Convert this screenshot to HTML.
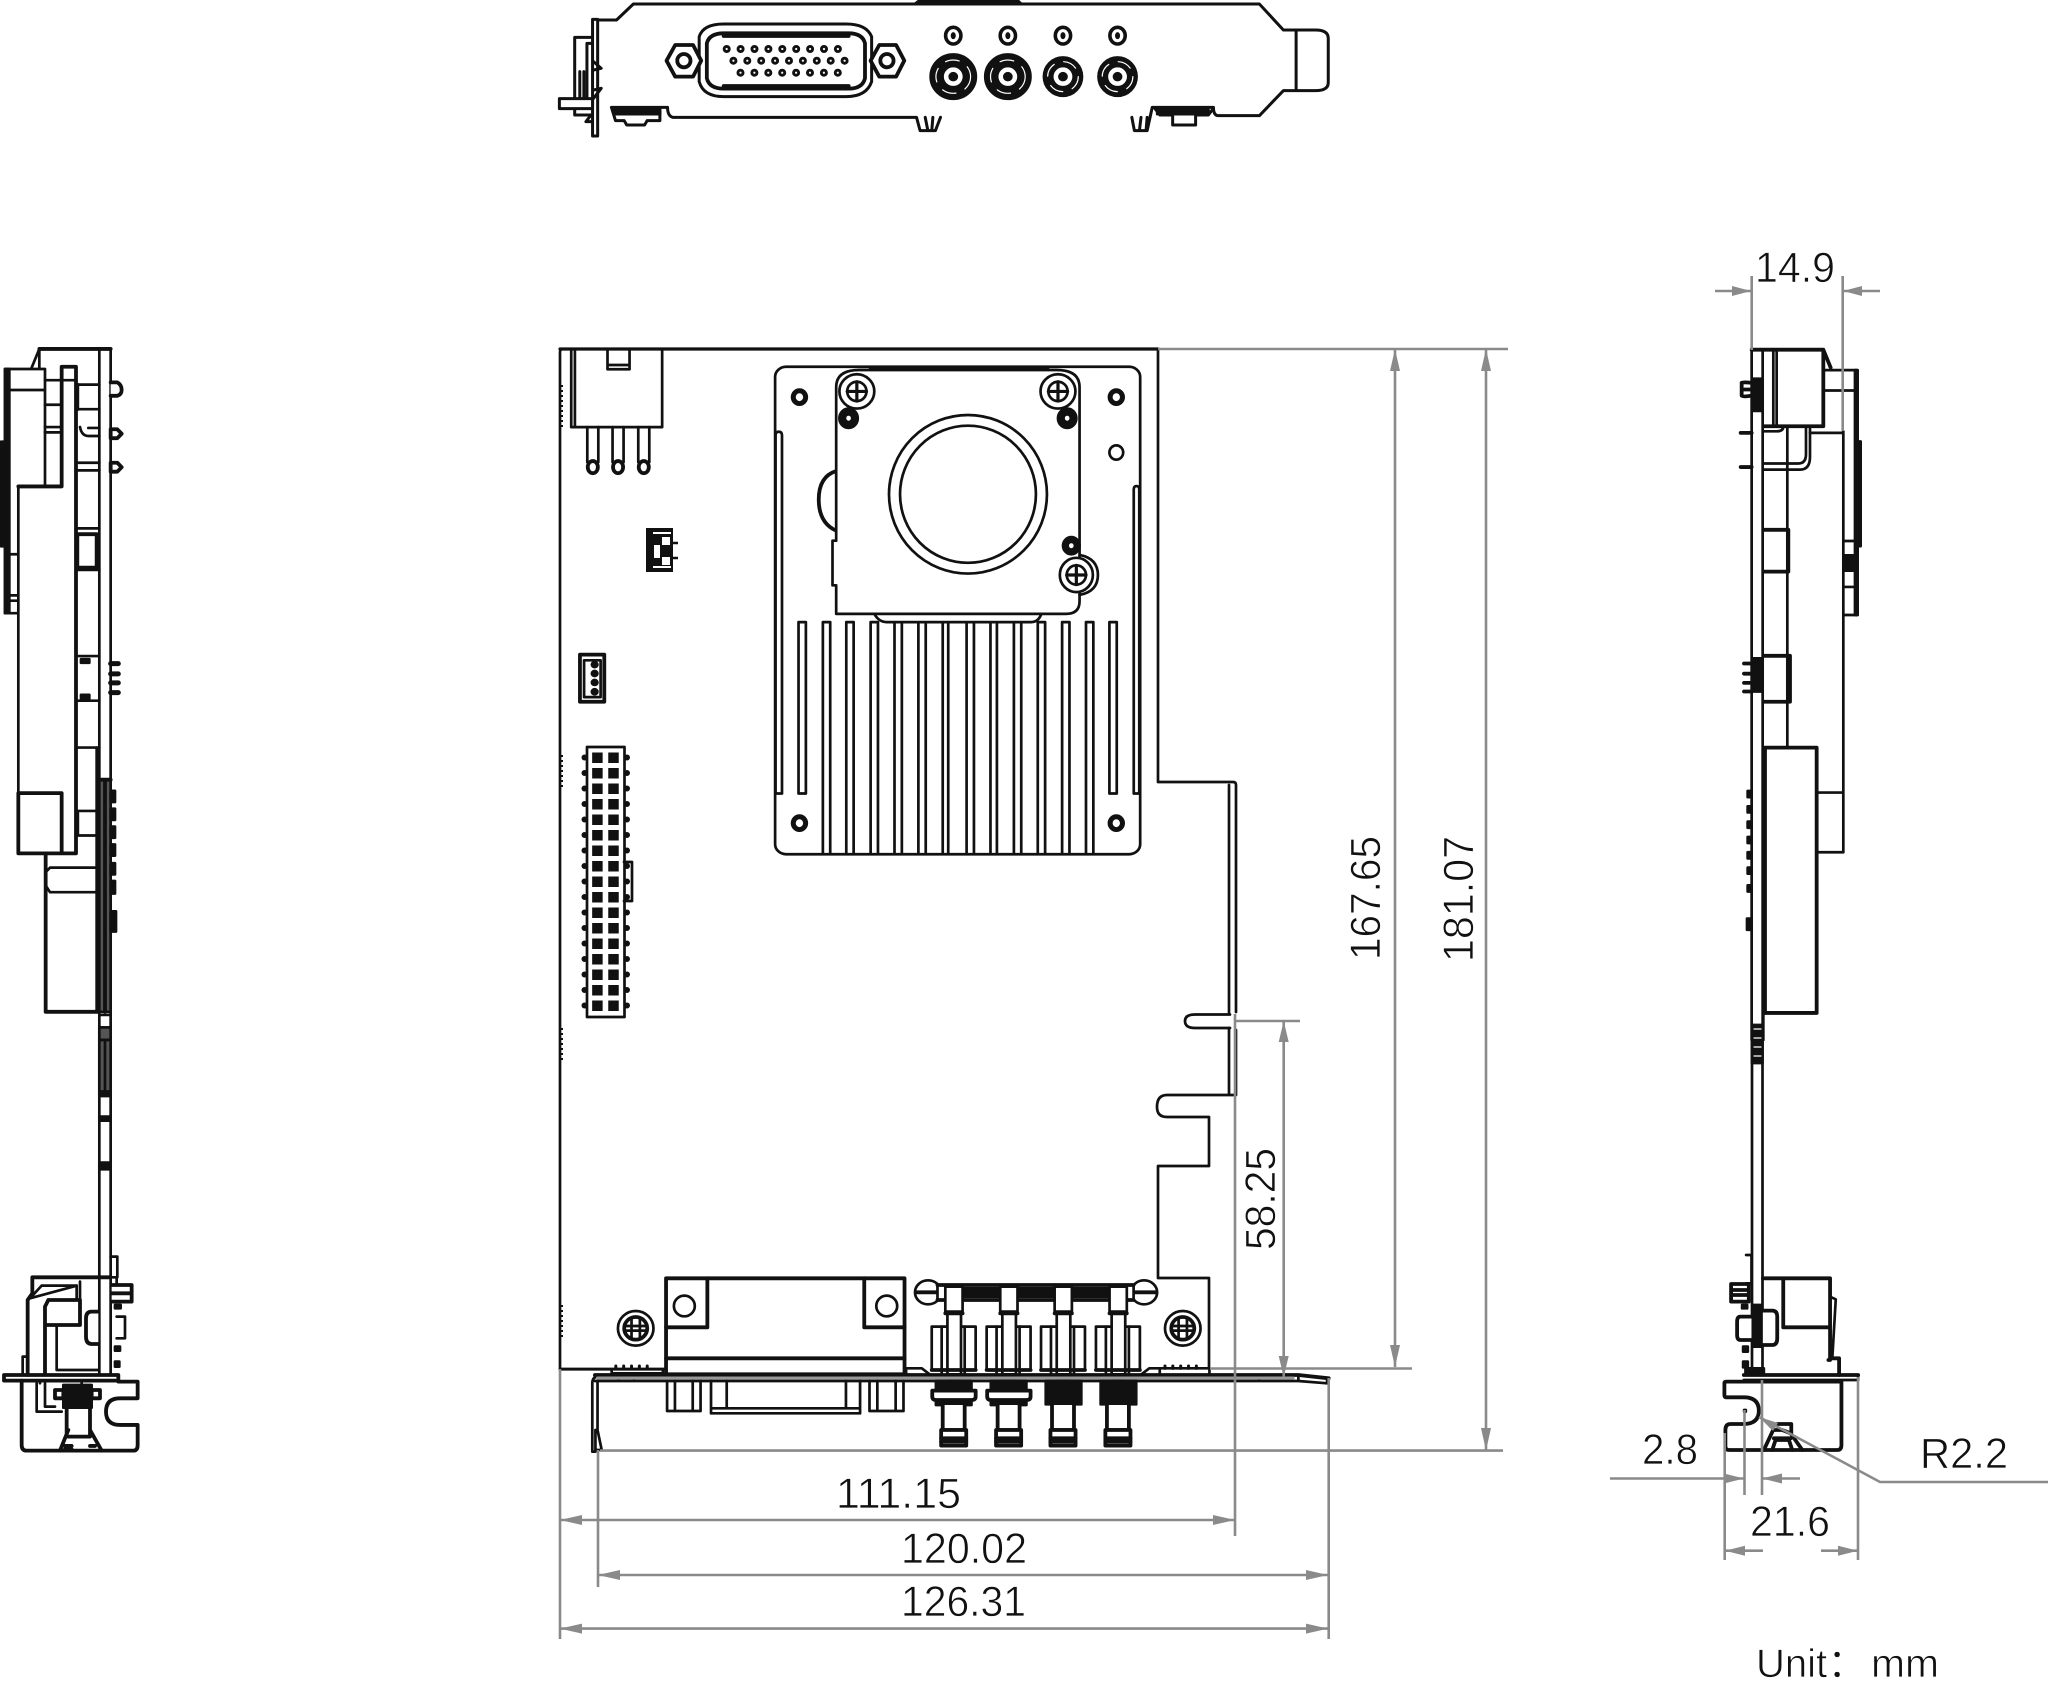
<!DOCTYPE html>
<html><head><meta charset="utf-8"><style>
html,body{margin:0;padding:0;background:#fff}
svg{display:block}
svg *{vector-effect:non-scaling-stroke}
.k{fill:none;stroke:#111;stroke-width:2.7;stroke-linejoin:round;stroke-linecap:round}
.k .w{fill:#fff}.k .f{fill:#111}.k .t{stroke-width:3.8}.k .d{fill:#555}
.g{fill:none;stroke:#8a8a8a;stroke-width:2.6}
.a{fill:#8a8a8a;stroke:none}
text{font-family:"Liberation Sans","Noto Sans CJK SC",sans-serif;font-size:43px;fill:#111;stroke:#fff;stroke-width:.7}
</style></head><body>
<svg width="2048" height="1707" viewBox="0 0 2048 1707" xmlns="http://www.w3.org/2000/svg">
<rect width="2048" height="1707" fill="#fff"/>

<!-- TOP BRACKET VIEW -->
<g class="k" style="stroke-width:3" transform="translate(540,0) scale(.5102,.3333)">
<path class="f" d="M735 12L745 0H935L943 12Z"/>
<path d="M105 60H150L183 12H1410L1457 90H1520Q1545 90 1545 115V248Q1545 272 1520 272H1457L1410 347H1330Q1320 347 1320 322H1200L1190 392H1165L1160 352M785 352L775 392H745L738 352H260Q250 347 250 322H140L148 362H165L170 375H205L210 362H235V322M1205 325L1215 345H1240V365L1240 375H1285L1285 345H1310L1320 325M1482 90V272"/>
<path d="M755 352L760 390M770 352L768 390M1178 352L1175 390M1190 352L1188 390"/>
<path class="f" d="M145 330H235V342H145ZM1210 330H1310V342H1210Z"/>
<path class="w" d="M103 58H113V408H103Z"/>
<path d="M103 112H68V296M100 130H92V296M105 185L120 205L105 210M78 296V215M86 296V215M105 270L120 265L105 295M68 325V345H103M100 345L90 365H103"/>
<rect class="w" x="38" y="296" width="65" height="30"/>
<path class="w" d="M360 72H600Q640 72 650 110V245Q640 290 600 290H360Q320 290 312 245V110Q320 72 360 72Z"/>
<path class="w t" d="M360 100H605Q632 100 637 130V235Q632 266 605 266H360Q332 266 327 235V130Q332 100 360 100Z"/>
<path class="t" d="M360 108H605M360 258H605"/>
<path class="w t" d="M265 135H300L316 182L300 230H265L248 182Z"/><ellipse class="t" cx="282" cy="182" rx="13" ry="20"/>
<path class="w t" d="M665 135H698L714 182L698 230H665L648 182Z"/><ellipse class="t" cx="680" cy="182" rx="13" ry="20"/>
<g style="stroke-width:3.6">
<ellipse cx="810" cy="107" rx="15" ry="25"/><ellipse cx="917" cy="107" rx="15" ry="25"/><ellipse cx="1025" cy="107" rx="15" ry="25"/><ellipse cx="1132" cy="107" rx="15" ry="25"/>
</g>
<ellipse class="f" cx="810" cy="107" rx="2" ry="6"/><ellipse class="f" cx="917" cy="107" rx="2" ry="6"/><ellipse class="f" cx="1025" cy="107" rx="2" ry="6"/><ellipse class="f" cx="1132" cy="107" rx="2" ry="6"/>
<ellipse class="f" cx="810" cy="230" rx="44" ry="66"/><ellipse class="f" cx="917" cy="230" rx="44" ry="66"/><ellipse class="f" cx="1025" cy="230" rx="37" ry="57"/><ellipse class="f" cx="1132" cy="230" rx="37" ry="57"/>
<g style="stroke:#fff;stroke-width:1.2" stroke-dasharray="14 10">
<ellipse cx="810" cy="230" rx="34" ry="50"/><ellipse cx="917" cy="230" rx="34" ry="50"/><ellipse cx="1025" cy="230" rx="30" ry="45"/><ellipse cx="1132" cy="230" rx="30" ry="45"/>
</g>
<g style="stroke:#fff;stroke-width:4.5">
<ellipse cx="810" cy="230" rx="14" ry="21"/><ellipse cx="917" cy="230" rx="14" ry="21"/><ellipse cx="1025" cy="230" rx="14" ry="21"/><ellipse cx="1132" cy="230" rx="14" ry="21"/>
</g>
</g>
<g fill="none" stroke-linecap="round" stroke-dasharray="0 13.9">
<path stroke="#111" stroke-width="8" d="M726.7 49H839M733.4 60.7H846M740.5 72.7H840"/>
<path stroke="#fff" stroke-width="2.2" d="M726.7 49H839M733.4 60.7H846M740.5 72.7H840"/>
</g>

<!-- MAIN BOARD OUTLINE -->
<g class="k">
<path d="M560 352Q560 349 563 349H1158V782H1233Q1236 782 1236 785V1012M1236 1030V1095H1167Q1157 1095 1157 1107Q1157 1117 1167 1117H1209V1166H1158V1278H1209V1367M560 352V1369H665M1229 785V1014M1229 1028V1095"/>
<path d="M1230 1014.5H1195Q1185 1014.5 1185 1021Q1185 1028 1195 1028H1230"/>
<path d="M560 349H1158" style="stroke-width:3.2"/>
<path d="M561 385V430M561 755V790M561 1028V1060M561 1305V1340" stroke-dasharray="2 3" style="stroke-width:4;stroke-linecap:butt"/>
</g>

<!-- MAIN UPPER -->
<g class="k" transform="translate(540,330) scale(.4592,.3571)">
<path d="M68 55V272H266V55M76 55V272M147 55V110H195V55M147 98H195"/>
<path d="M103 272V370M127 272V370M158 272V370M182 272V370M214 272V370M238 272V370"/>
<ellipse class="w t" cx="115" cy="384" rx="11" ry="17"/><ellipse class="w t" cx="170" cy="384" rx="11" ry="17"/><ellipse class="w t" cx="226" cy="384" rx="11" ry="17"/>
<rect class="w t" x="87" y="909" width="53" height="132"/><rect x="96" y="925" width="36" height="103"/>
<ellipse class="f" cx="119" cy="937" rx="6" ry="7"/><ellipse class="f" cx="119" cy="962" rx="6" ry="7"/><ellipse class="f" cx="119" cy="987" rx="6" ry="7"/><ellipse class="f" cx="119" cy="1013" rx="6" ry="7"/>
<rect x="512" y="103" width="795" height="1365" rx="24" ry="28" class="w"/>
<path d="M513 1298V295Q513 285 520 285Q527 285 527 295V1298H513M1305 1298V447Q1305 437 1299 437Q1293 437 1293 447V1298H1305"/>
<path d="M563 818V1298H579V818ZM1240 818V1298H1256V818ZM616 818V1465M632 818V1465M667 818V1465M683 818V1465M720 818V1465M736 818V1465M772 818V1465M788 818V1465M824 818V1465M840 818V1465M877 818V1465M889 818V1465M929 818V1465M945 818V1465M981 818V1465M995 818V1465M1032 818V1465M1048 818V1465M1084 818V1465M1100 818V1465M1137 818V1465M1153 818V1465M1189 818V1465M1205 818V1465M563 818H579M616 818H632M667 818H683M720 818H736M1084 818H1100M1137 818H1153M1189 818H1205M1240 818H1256"/>
<ellipse class="f" cx="565" cy="188" rx="16" ry="21"/><ellipse class="f" cx="1255" cy="188" rx="16" ry="21"/><ellipse class="f" cx="565" cy="1381" rx="16" ry="21"/><ellipse class="f" cx="1255" cy="1381" rx="16" ry="21"/>
<ellipse style="fill:#fff;stroke:none" cx="565" cy="188" rx="8" ry="11"/><ellipse style="fill:#fff;stroke:none" cx="1255" cy="188" rx="8" ry="11"/><ellipse style="fill:#fff;stroke:none" cx="565" cy="1381" rx="8" ry="11"/><ellipse style="fill:#fff;stroke:none" cx="1255" cy="1381" rx="8" ry="11"/>
<ellipse cx="1255" cy="343" rx="15" ry="20"/>
<path class="t" d="M645 395Q607 410 607 475Q607 540 645 562"/>
<path class="w" d="M728 795Q738 818 755 818H1070Q1085 818 1092 795"/>
<path class="w" d="M645 160Q645 112 695 112H1125Q1175 112 1175 160V760Q1175 795 1145 795H645V715H637V590H645Z"/>
<path class="t" d="M720 107H1105"/>
<ellipse cx="932" cy="460" rx="172" ry="222"/><ellipse cx="932" cy="460" rx="148" ry="192"/>
<path d="M1175 630Q1215 640 1215 686Q1215 732 1175 742"/>
<g id="sc1"><ellipse class="w" cx="690" cy="172" rx="38" ry="48"/><ellipse cx="690" cy="172" rx="21" ry="27"/><path d="M690 145V199M669 172H711" style="stroke-width:3.2"/></g>
<g id="sc2"><ellipse class="w" cx="1128" cy="172" rx="38" ry="48"/><ellipse cx="1128" cy="172" rx="21" ry="27"/><path d="M1128 145V199M1107 172H1149" style="stroke-width:3.2"/></g>
<g id="sc3"><ellipse class="w" cx="1168" cy="686" rx="36" ry="48"/><ellipse cx="1168" cy="686" rx="21" ry="27"/><path d="M1168 659V713M1147 686H1189" style="stroke-width:3.2"/></g>
<ellipse class="f" cx="672" cy="247" rx="20" ry="27"/><ellipse class="f" cx="1148" cy="247" rx="20" ry="27"/><ellipse class="f" cx="1157" cy="604" rx="18" ry="24"/>
<ellipse style="fill:#fff;stroke:none" cx="672" cy="247" rx="5" ry="7"/><ellipse style="fill:#fff;stroke:none" cx="1148" cy="247" rx="5" ry="7"/><ellipse style="fill:#fff;stroke:none" cx="1157" cy="604" rx="5" ry="7"/>
</g>
<!-- small latch connector -->
<g>
<rect x="646" y="528" width="27" height="44" fill="#111"/>
<path fill="#fff" d="M653 532H671V534H653ZM653 566H671V568H653ZM662 537H670V545H662ZM662 557H670V565H662ZM654 545H660V558H654Z"/>
<path stroke="#111" stroke-width="2.5" d="M673 543H678M673 558H678"/>
</g>
<!-- 34 pin header -->
<g class="k">
<rect class="w" x="587" y="747" width="37.5" height="270"/>
<path d="M624 862H632V901H624"/>
</g>
<g fill="none">
<path stroke="#111" stroke-width="10.5" stroke-dasharray="10.5 5" d="M597.4 752.5V1012M613.5 752.5V1012"/>
<path stroke="#111" stroke-width="6" stroke-linecap="round" stroke-dasharray="0 15.5" d="M584.5 757.5V1010M627 757.5V1010"/>
</g>

<!-- MAIN LOWER -->
<g class="k" transform="translate(540,1240) scale(.523,.3333)">
<path d="M137 388V400H235V388H137M700 403V385H730L745 403M1150 403L1165 385H1280M1185 385V403M1280 388V403M38 388H137"/>
<path d="M145 385V378M160 385V378M175 385V378M190 385V378M205 385V378M1195 385V378M1210 385V378M1225 385V378M1240 385V378M1255 385V378" style="stroke-width:3"/>
<path class="t" d="M105 405H1450L1508 415"/>
<path d="M105 423H1450L1505 430V415M1450 405V423M1375 405V423M150 405V423M180 405V423"/>
<path d="M100 430Q100 408 115 408M100 430V635H106M110 423V570L118 630H106V570"/>
<path style="stroke:#999;stroke-width:3" d="M110 414H1440"/>
<rect class="w t" x="241" y="115" width="456" height="288"/>
<path class="t" d="M241 262H320V115M697 262H620V115M241 355H697"/>
<ellipse cx="276" cy="198" rx="20" ry="31"/><ellipse cx="663" cy="198" rx="20" ry="31"/>
<path d="M243 423V513H307V423M258 423V513M292 423V513M630 423V513H695V423M645 423V513M680 423V513"/>
<path d="M327 423V520H612V423M357 423V505H585V423M327 505H612"/>
<g id="ssa"><ellipse class="w" cx="183" cy="265" rx="34" ry="52"/><ellipse cx="183" cy="265" rx="22" ry="34" class="t"/><path d="M175 235V295M191 235V295M163 258H203M163 272H203"/></g>
<use href="#ssa" x="1046"/>
<ellipse class="w" cx="742" cy="157" rx="25" ry="36"/><ellipse class="w" cx="1155" cy="157" rx="25" ry="36"/>
<path class="t" d="M720 157H775M1130 157H1178"/>
<path class="w" d="M760 135H1135V180H760Z"/>
<path class="f" d="M808 145H880V170H808ZM912 145H985V170H912ZM1017 145H1088V170H1017Z"/>
<path class="t" d="M760 135H1135M760 180H1135"/>
<g id="cn">
<path class="w" d="M749 390V260H833V390"/><path d="M768 260V403M812 260V403"/>
<path class="w" d="M775 140V215H808V140ZM779 215V403H805V215"/>
<path d="M775 220H808" class="t"/>
<path class="t" d="M749 390H833"/>
</g>
<use href="#cn" x="105"/><use href="#cn" x="209"/><use href="#cn" x="314"/>
<g id="ha">
<path class="f" d="M757 423H825V455H757ZM757 478H825V495H757Z"/>
<path class="w" d="M780 423Q790 436 800 423Z"/>
<path class="w t" d="M750 452H833V470Q833 480 825 480H757Q750 480 750 470Z"/>
</g>
<use href="#ha" x="105"/>
<g id="hb">
<path class="f" d="M967 423H1035V493H967Z"/>
<path class="w" d="M990 423Q999 436 1010 423Z"/>
</g>
<use href="#hb" x="105"/>
<g id="bb">
<path class="w t" d="M770 495V570H812V495"/>
<rect class="w t" x="767" y="570" width="48" height="47"/>
<path d="M767 595H815M767 605H815" class="t"/>
</g>
<use href="#bb" x="105"/><use href="#bb" x="209"/><use href="#bb" x="314"/>
</g>

<!-- LEFT VIEW UPPER -->
<g class="k" transform="translate(0,340) scale(.3333,.4464)">
<path class="t" d="M118 20H332"/>
<path d="M118 20L95 62M118 20V62M298 20V1568M332 20V1568"/>
<path class="f" d="M3 228H15V462H3Z"/>
<path d="M15 65H135V328H55V612H15ZM15 112H135M15 480H55M15 572H55M15 584H55M55 612V1015"/>
<path class="f" d="M15 65H28V612H15Z"/><path class="t" d="M55 328H185V60H228V1150H55V1015H185V1150"/>
<path d="M185 90H228M135 90H185M135 145H185M135 195H185M135 207H185"/>
<path d="M228 100H298M228 155H298M228 275H298M228 292H298M228 422H298M228 515H298M228 708H298M228 808H298M228 913H298M228 1055H298M228 1110H298"/>
<path class="t" d="M232 100V155M232 435H290V510H232ZM232 1060V1108"/>
<path d="M240 195Q245 215 265 215H298M265 197H298"/>
<path class="w t" d="M332 95H352Q365 100 365 112Q365 122 352 125H332"/>
<path class="w t" d="M332 200H352L365 210L352 220H332ZM332 275H352L365 285L352 295H332Z"/>
<path class="t" d="M332 725H355M332 748H355M332 768H355M332 790H355" style="stroke-width:5"/>
<rect x="243" y="715" width="25" height="8" class="f"/><rect x="243" y="795" width="25" height="8" class="f"/>
<path d="M290 913V1505"/>
<path class="d" d="M298 985H332V1505H298Z"/>
<path class="t" d="M315 985V1505M298 985H332"/>
<path class="f" d="M332 1010H345V1035H332ZM332 1050H345V1075H332ZM332 1090H345V1115H332ZM332 1130H345V1155H332ZM332 1172H345V1197H332ZM332 1212H345V1240H332ZM332 1280H348V1325H332Z"/>
<path class="t" d="M137 1150V1505H295"/>
<path d="M137 1192L150 1182H295M137 1222L150 1237H295"/>
<path d="M298 1512H332M298 1540H332"/>
<path class="d" d="M298 1540H332V1568H298Z"/>
</g>

<!-- LEFT VIEW LOWER -->
<g class="k" transform="translate(0,1040) scale(.3333,.3333)">
<path d="M298 0V1000M332 0V1000"/>
<path class="d" d="M298 0H332V155H298Z"/>
<path class="f" d="M298 155H332V168H298ZM298 230H332V242H298ZM298 368H332V388H298Z"/>
<path d="M315 0V150"/>
<path class="t" d="M97 712H332M97 712V760L83 780V1005"/>
<path d="M125 737H230L90 775M125 737L90 775"/>
<path class="t" d="M145 780H240V855H140M145 780L135 800V1000"/>
<path d="M240 725V855M170 855V990H295M230 737V780"/>
<path class="w t" d="M295 815H275Q258 815 258 835V890Q258 912 275 912H295"/>
<path d="M332 650H352V712M335 712H350V735"/>
<path class="w t" d="M335 735H395V785H335M335 760H395"/>
<path class="w" d="M350 830H375V895H350"/>
<path class="f" d="M345 795H362V805H345ZM345 920H360V932H345ZM345 965H358V980H345Z"/>
<path d="M68 1005V950H80"/>
<path class="t" d="M12 1005H355V1022H12Z"/>
<path class="t" d="M65 1022V1215Q65 1232 80 1232H400Q413 1232 413 1215V1155H360Q318 1155 318 1115Q318 1075 360 1075H413V1025H355"/>
<path d="M110 1030V1115H185M135 1030V1100H165M120 1022V1030M245 1022V1030"/>
<path class="f" d="M190 1035H275V1103H190Z"/>
<path d="M165 1050H190V1075H165ZM275 1050H300V1075H275Z" class="t"/>
<path class="t" d="M200 1103V1190M270 1103V1190M180 1232L205 1170M305 1232L270 1170M205 1190H270M195 1218H215M195 1228H215M270 1218H285"/>
</g>

<!-- RIGHT VIEW UPPER -->
<g class="k" transform="translate(1700,240) scale(.3333,.5102)">
<path class="t" d="M155 215H370L392 250M370 215V365H190"/>
<path d="M155 215V1568M188 215V1568M220 215V365M230 215V365"/>
<path class="f" d="M160 272H188V335H160ZM160 820H188V885H160Z"/>
<path d="M370 255H470M370 295H465M430 375V1200H350M430 590H470M430 680H470M430 735H472M350 1083H430M330 378H430M262 365V995"/>
<path class="f" d="M465 255H473V735H465ZM473 395H482V600H473ZM435 618H470V648H435Z"/>
<path class="w t" d="M125 293H155M125 280V305Q130 308 155 305M155 280Q130 278 125 280"/>
<path class="t" d="M122 378H155M122 445H155M132 830H155M132 850H155M132 868H155M132 885H155"/>
<path d="M190 375H230Q250 375 250 365M190 450H300Q330 450 330 425V370M190 438H295Q318 438 318 420V370"/>
<path class="t" d="M190 568H265V650H190M190 815H270V905H190M195 995H350V1515H195Z"/>
<path class="f" d="M143 1080H155V1092H143ZM143 1110H155V1122H143ZM143 1140H155V1152H143ZM143 1170H155V1182H143ZM143 1200H155V1212H143ZM143 1230H155V1242H143ZM143 1265H155V1277H143ZM141 1330H155V1352H141Z"/>
<path d="M190 995V1568"/>
</g>
<!-- RIGHT BOARD CONTINUATION -->
<g class="k">
<path d="M1752 1040V1375M1762.5 1040V1375"/>
<rect class="f" x="1752" y="1025" width="10.5" height="38"/>
<path style="stroke:#fff;stroke-width:1.2" d="M1754 1029H1761M1754 1038H1761M1754 1047H1761M1754 1056H1761"/>
</g>

<!-- RIGHT VIEW LOWER -->
<g class="k" transform="translate(1600,1240) scale(.3344,.3333)">
<path d="M437 45H453V130H437"/>
<path class="w t" d="M392 132H445V185H392ZM392 150H445M392 165H445"/>
<path class="f" d="M425 195H440V205H425ZM428 320H442V335H428ZM428 365H442V382H428ZM435 385H490V403H435ZM457 195H485V320H457Z"/>
<path class="w t" d="M453 230H420Q410 230 410 245V285Q410 300 420 300H453"/>
<path class="w t" d="M487 212H515Q530 212 530 230V295Q530 315 515 315H487"/>
<path class="t" d="M487 115H688V360H683M548 115V262H688M688 355H715V405"/>
<path d="M688 170L705 178L695 350"/>
<path class="t" d="M430 405H772"/>
<path d="M430 420H772V405M722 420V425"/>
<path class="t" d="M372 430Q372 425 378 425H722V615Q722 630 710 630H385Q375 630 375 618V570Q375 552 390 552H430Q475 552 475 512Q475 472 430 472H378Q372 472 372 465Z"/>
<path class="f" d="M431 510H436V515H431Z"/>
<path class="t" d="M530 552H572V580"/>
<path class="t" d="M490 630L518 570H545L570 580L605 630M515 630L525 600H565L575 630M520 595H570"/>
</g>

<!-- DIMENSIONS -->
<g class="g">
<path d="M1158 349H1508M1210 1368.5H1412M1236 1021H1300M600 1450.6H1503"/>
<path d="M1395 349V1367M1486 349V1450M1283.7 1021V1377"/>
<path d="M1235 1014V1536M560 1369V1639M1328.7 1378V1639M598 1450V1587"/>
<path d="M560 1520H1235M598 1575H1328M560 1628.6H1328"/>
<path d="M1715 291H1751M1843 291H1880M1751.7 276V350M1842.7 276V431"/>
<path d="M1610 1478.5H1744M1762 1478.5H1800M1744.5 1410V1495M1762 1380V1495M1724.7 1433V1560M1858 1377V1560M1724.7 1550.7H1763M1821 1550.7H1858"/>
<path d="M1759 1417L1880 1482H2048"/>
</g>
<g class="a">
<polygon points="1395,1367 1390,1345 1400,1345"/>
<polygon points="1395,349 1390,371 1400,371"/>
<polygon points="1486,1450.6 1481,1428 1491,1428"/>
<polygon points="1486,349 1481,371 1491,371"/>
<polygon points="1283.7,1021 1278.7,1042 1288.7,1042"/>
<polygon points="1283.7,1377 1278.7,1356 1288.7,1356"/>
<polygon points="560,1520 582,1515 582,1525"/><polygon points="1235,1520 1213,1515 1213,1525"/>
<polygon points="598,1575 620,1570 620,1580"/><polygon points="1328,1575 1306,1570 1306,1580"/>
<polygon points="560,1628.6 582,1623.6 582,1633.6"/><polygon points="1328,1628.6 1306,1623.6 1306,1633.6"/>
<polygon points="1751,291 1732,286 1732,296"/><polygon points="1843,291 1862,286 1862,296"/>
<polygon points="1744,1478.5 1724,1473.5 1724,1483.5"/><polygon points="1762,1478.5 1782,1473.5 1782,1483.5"/>
<polygon points="1725,1550.7 1745,1545.7 1745,1555.7"/><polygon points="1858,1550.7 1838,1545.7 1838,1555.7"/>
<polygon points="1759,1417 1778,1423 1773,1431"/>
</g>

<!-- TEXT -->
<text x="836" y="1508" textLength="125" lengthAdjust="spacingAndGlyphs">111.15</text>
<text x="901" y="1563" textLength="126" lengthAdjust="spacingAndGlyphs">120.02</text>
<text x="901" y="1616" textLength="125" lengthAdjust="spacingAndGlyphs">126.31</text>
<text transform="translate(1380,960) rotate(-90)" textLength="124" lengthAdjust="spacingAndGlyphs">167.65</text>
<text transform="translate(1473,962) rotate(-90)" textLength="126" lengthAdjust="spacingAndGlyphs">181.07</text>
<text transform="translate(1275,1250) rotate(-90)" textLength="102" lengthAdjust="spacingAndGlyphs">58.25</text>
<text x="1755" y="282" textLength="80" lengthAdjust="spacingAndGlyphs">14.9</text>
<text x="1642" y="1464" textLength="56" lengthAdjust="spacingAndGlyphs">2.8</text>
<text x="1920" y="1468" textLength="88" lengthAdjust="spacingAndGlyphs">R2.2</text>
<text x="1750" y="1536" textLength="80" lengthAdjust="spacingAndGlyphs">21.6</text>
<text x="1756" y="1677" style="font-size:40px">Unit：</text>
<text x="1871" y="1677" style="font-size:40px" textLength="68" lengthAdjust="spacingAndGlyphs">mm</text>
</svg>
</body></html>
